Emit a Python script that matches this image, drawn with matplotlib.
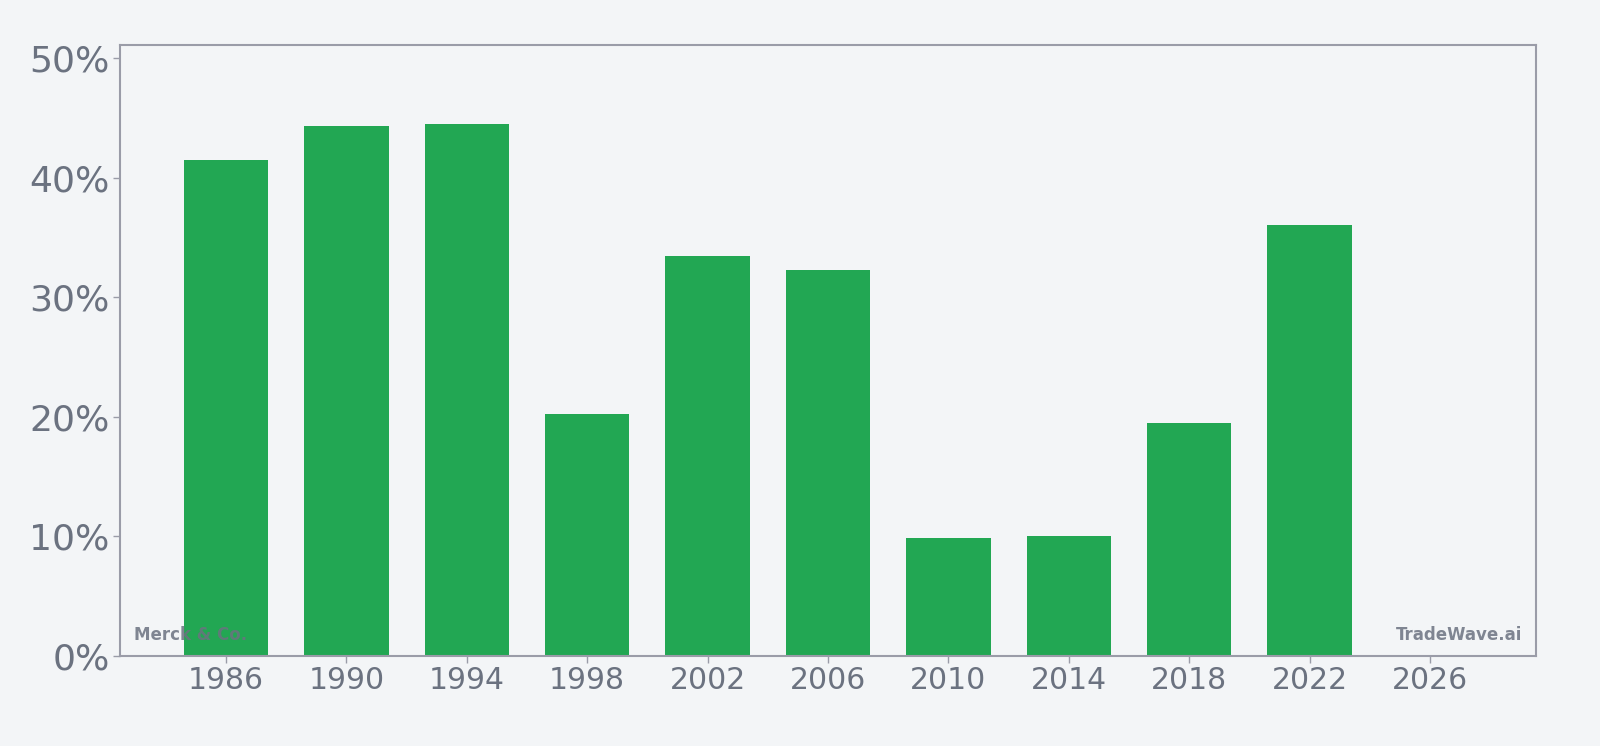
import matplotlib
matplotlib.use("Agg")
import matplotlib.pyplot as plt
from matplotlib.ticker import FuncFormatter

years = [1986, 1990, 1994, 1998, 2002, 2006, 2010, 2014, 2018, 2022]
values = [41.5, 44.3, 44.45, 20.2, 33.45, 32.3, 9.9, 10.0, 19.5, 36.05]
xticks = [1986, 1990, 1994, 1998, 2002, 2006, 2010, 2014, 2018, 2022, 2026]
yticks = [0, 10, 20, 30, 40, 50]

bg = "#f3f5f7"
text_c = "#6b7280"
spine_c = "#9a9ca8"
bar_c = "#22a753"

fig = plt.figure(figsize=(16, 7.46), dpi=100, facecolor=bg)
ax = fig.add_axes([0.075, 0.1206, 0.885, 0.8195])
ax.set_facecolor(bg)

ax.bar(years, values, width=2.8, color=bar_c, zorder=2)

ax.set_xlim(1982.48, 2029.52)
ax.set_ylim(0, max(values) * 1.15)
ax.set_xticks(xticks)
ax.set_yticks(yticks)
ax.yaxis.set_major_formatter(FuncFormatter(lambda v, p: f"{v:.0f}%"))

ax.tick_params(axis="x", labelsize=21.5, colors=spine_c, labelcolor=text_c, length=5, width=1, pad=2.5)
ax.tick_params(axis="y", labelsize=26, colors=spine_c, labelcolor=text_c, length=5, width=1, pad=2.5)

for s in ax.spines.values():
    s.set_color(spine_c)
    s.set_linewidth(1.5)

ax.text(0.01, 0.02, "Merck & Co.", transform=ax.transAxes, fontsize=12, fontweight="bold",
        color=text_c, alpha=0.85, ha="left", va="bottom", zorder=5)
ax.text(0.99, 0.02, "TradeWave.ai", transform=ax.transAxes, fontsize=12, fontweight="bold",
        color=text_c, alpha=0.85, ha="right", va="bottom", zorder=5)

fig.savefig("out.png", dpi=100, facecolor=bg)
